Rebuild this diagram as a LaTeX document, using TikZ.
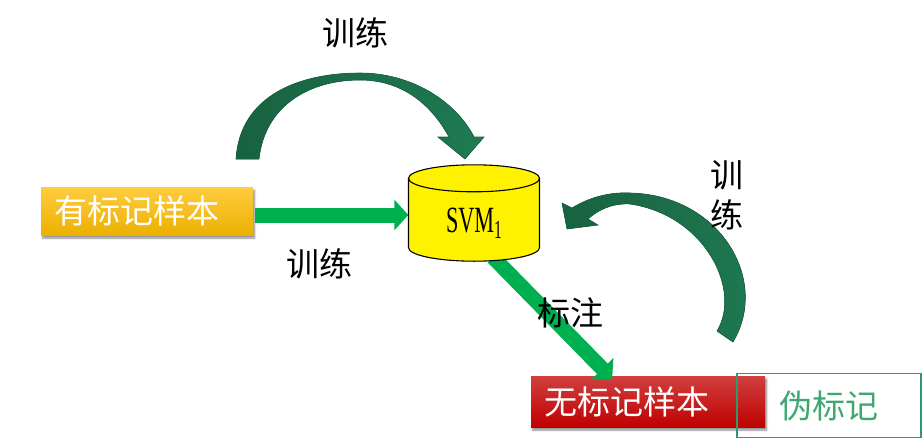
\documentclass[tikz,border=0pt]{standalone}
\usepackage{fontspec}
\newfontfamily\cjk{Noto Sans CJK SC}
\setmainfont{Liberation Serif}
\usepackage{xcolor}
\usetikzlibrary{arrows.meta,shadows.blur}

\definecolor{arrowgreen}{RGB}{0,176,80}
\definecolor{curvegreen}{RGB}{24,98,64}
\definecolor{curvelight}{RGB}{30,122,82}
\definecolor{goldtop}{RGB}{255,204,64}
\definecolor{goldbot}{RGB}{236,176,0}
\definecolor{redtop}{RGB}{208,64,64}
\definecolor{redbot}{RGB}{192,0,0}
\definecolor{pseudogreen}{RGB}{46,154,104}
\definecolor{pseudotext}{RGB}{62,168,112}

\tikzset{
  fat/.style={-{Triangle[length=14pt,width=30pt]},line width=15pt,draw=arrowgreen},
  samplebox/.style={inner xsep=13pt,inner ysep=0pt,text=white,anchor=west,
    font=\cjk\fontsize{33}{38}\selectfont,align=left,
    blur shadow={shadow xshift=1.5pt,shadow yshift=-3pt,shadow blur steps=6,shadow opacity=45}},
  word/.style={font=\cjk\fontsize{33}{40}\selectfont,inner sep=0pt},
  curvearrow/.style={left color=curvegreen,right color=curvelight,draw=curvegreen,line width=0.6pt}
}

\begin{document}
\begin{tikzpicture}[x=1pt,y=-1pt,>=Latex]
  \useasboundingbox (0,0) rectangle (922,442);
  % boxes and the model
  \node[samplebox,minimum width=212pt,minimum height=48pt,text width=186pt,
        top color=goldtop,bottom color=goldbot] (lab) at (41,211) {有标记样本};
  \node[inner sep=0pt,minimum width=131pt,minimum height=96pt] (svm) at (474,213) {};
  \node[samplebox,minimum width=234pt,minimum height=51pt,text width=208pt,
        top color=redtop,bottom color=redbot] (unl) at (531,401.5) {无标记样本};
  \node[draw=pseudogreen,line width=1.8pt,minimum width=184pt,minimum height=64pt,
        text=pseudotext,font=\cjk\fontsize{33}{38}\selectfont] (pse) at (829,405.5) {伪标记};

  % straight arrows
  \draw[fat] ([xshift=2pt,yshift=-4pt]lab.east) -- ([yshift=-4pt]lab.east -| svm.west);
  \draw[fat] ([xshift=19pt,yshift=4pt]svm.south) -- ([xshift=-36pt,yshift=-3pt]unl.north);

  % cylinder
  \path (svm.north) ++(0,13.5) coordinate (ctop);
  \path (svm.south) ++(0,-13.5) coordinate (cbot);
  \filldraw[fill=yellow,line width=1.1pt]
    ([xshift=-65.5pt]ctop) -- ([xshift=-65.5pt]cbot)
    arc[start angle=180,end angle=0,x radius=65.5,y radius=13.5]
    -- ([xshift=65.5pt]ctop) -- cycle;
  \filldraw[fill=yellow,line width=1.1pt] (ctop) ellipse[x radius=65.5,y radius=13.5];
  \node[inner sep=0pt] (svmtext) at (474,223)
    {\scalebox{0.6}[1]{\fontsize{37}{40}\selectfont SVM}\raisebox{-6pt}{\scalebox{0.6}[1]{\fontsize{26}{28}\selectfont 1}}};

  % curved arrows
  \filldraw[curvearrow] (236,159) .. controls (240,95) and (300,73) .. (360,73)
    .. controls (410,73) and (455,100) .. (474,137)
    -- (484,137) -- (465,159) -- (438,137) -- (449,137)
    .. controls (430,102) and (400,80) .. (360,80)
    .. controls (310,80) and (265,105) .. (259,159) -- cycle;
  \filldraw[curvearrow] (717,331) .. controls (742,290) and (705,215) .. (630,204)
    .. controls (612,203) and (598,210) .. (588,219)
    -- (598,225) -- (567,229) -- (562,203) -- (572,208)
    .. controls (590,197) and (610,192) .. (630,193)
    .. controls (720,195) and (770,280) .. (733,342) -- cycle;

  % labels
  \node[word] (ttop) at (355,33) {训练};
  \node[word] (tlow) at (319,264) {训练};
  \node[word] (tmark) at (570,313) {标注};
  \node[word,align=center,font=\cjk\fontsize{33}{40}\selectfont] (tright) at (727,195) {训\\练};
\end{tikzpicture}
\end{document}
